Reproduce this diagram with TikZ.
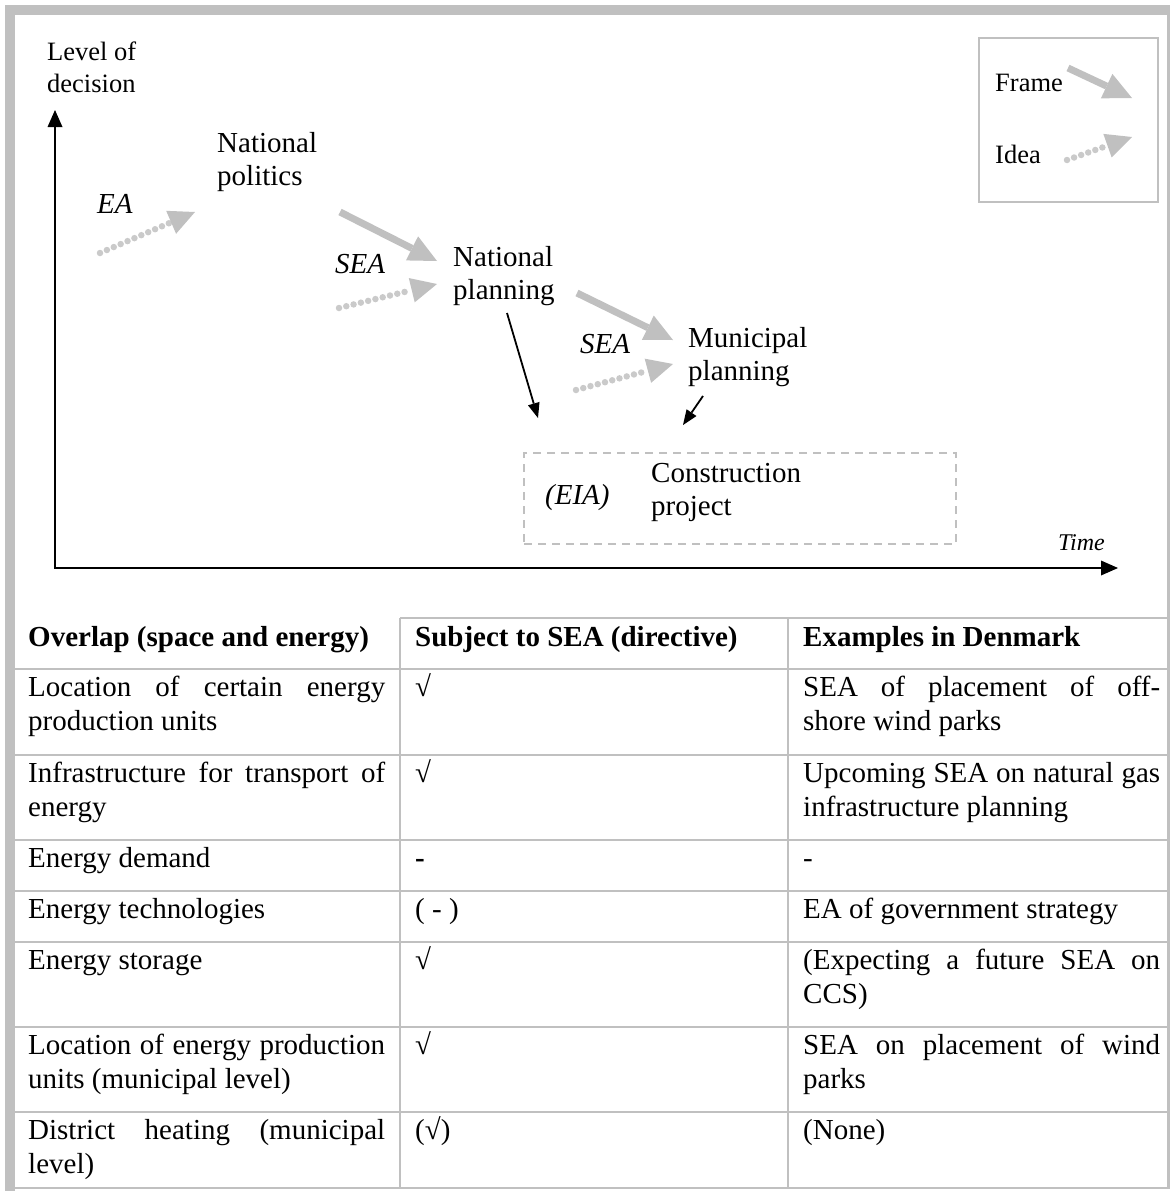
\documentclass[tikz,border=0pt]{standalone}
\usepackage{fontspec}
\setmainfont{Liberation Serif}
\usetikzlibrary{arrows.meta,positioning}
\hbadness=10000
\definecolor{lightgrey}{RGB}{192,192,192}
\definecolor{dotgrey}{RGB}{202,202,202}
\newcommand{\bigtext}{\fontsize{29}{33}\selectfont}
\newcommand{\tabtext}{\fontsize{29}{34}\selectfont}
\newcommand{\smalltext}{\fontsize{26.5}{32}\selectfont}
\newcommand{\timetext}{\fontsize{24}{28}\selectfont}
\tikzset{
    txt/.style={anchor=base west, inner sep=0pt, align=left, font=\bigtext},
    itxt/.style={txt, font=\bigtext\itshape},
    smalltxt/.style={txt, font=\smalltext},
    cell/.style={anchor=base west, inner sep=0pt, text width=357pt, align=justify, font=\tabtext},
    framearrow/.style={draw=lightgrey, line width=7pt, -{Triangle[length=28pt, width=27pt, line width=0pt]}},
    ideaarrow/.style={draw=dotgrey, line width=6.5pt, line cap=round, dash pattern=on 0pt off 7.5pt,
        -{Triangle[length=26pt, width=25pt, line width=0pt, color=lightgrey]}},
    blackarrow/.style={draw, line width=1.8pt, -{Triangle[length=15pt, width=12pt, line width=0pt]}},
    axis/.style={draw, line width=2.5pt, {Triangle[length=17pt, width=15pt, line width=0pt]}-{Triangle[length=17pt, width=15pt, line width=0pt]}},
    grid/.style={draw=lightgrey, line width=2pt},
    greybox/.style={draw=lightgrey, line width=2pt, inner sep=0pt, anchor=north west}
}

\begin{document}
\begin{tikzpicture}[x=1pt, y=-1pt]
    \useasboundingbox (0,0) rectangle (1172,1191);

    % outer frame
    \fill[lightgrey] (5,5) rectangle (1170,15);
    \fill[lightgrey] (5,5) rectangle (15,1191);
    \draw[lightgrey, line width=2.5pt] (1168.5,15) -- (1168.5,1188) -- (15,1188);

    % axes
    \coordinate (origin) at (55,568);
    \coordinate (ytop) at (55,110);
    \coordinate (xright) at (1118,568);
    \draw[axis] (ytop) -- (origin) -- (xright);
    \node[smalltxt] (level) at (47,92) {Level of\\decision};
    \node[font=\timetext\itshape, anchor=base east, inner sep=0pt] (time) at (1105,550) {Time};

    % Nodes (two-line nodes sit on their last line)
    \node[txt] (natpol) at (217,185) {National\\politics};
    \node[itxt] (ea) at (97,213) {EA};
    \node[itxt] (sea1) at (335,273) {SEA};
    \node[txt] (natplan) at (453,299) {National\\planning};
    \node[itxt] (sea2) at (580,353) {SEA};
    \node[txt] (munplan) at (688,380) {Municipal\\planning};
    \node[greybox, dash pattern=on 8pt off 6pt, minimum width=432pt, minimum height=91pt] (projbox) at (523,452) {};
    \node[itxt] (eia) at (545,504) {(EIA)};
    \node[txt] (constr) at (651,515) {Construction\\project};

    % legend
    \node[greybox, minimum width=179pt, minimum height=164pt] (legend) at (978,37) {};
    \node[smalltxt] (frame) at (995,91) {Frame};
    \node[smalltxt] (idea) at (995,163) {Idea};

    % arrow ends
    \coordinate (ea0) at (100,253);   \coordinate (ea1) at (195,212);
    \coordinate (fr0) at (340,212);   \coordinate (fr1) at (437,261);
    \coordinate (id0) at (339,308);   \coordinate (id1) at (437,284);
    \coordinate (fr2) at (577,293);   \coordinate (fr3) at (673,340);
    \coordinate (id2) at (576,390);   \coordinate (id3) at (673,364);
    \coordinate (lf0) at (1068,68);   \coordinate (lf1) at (1132,98);
    \coordinate (li0) at (1067,160);  \coordinate (li1) at (1132,137);
    \coordinate (np0) at (507,313);   \coordinate (np1) at (538,418);
    \coordinate (mp0) at (703,396);   \coordinate (mp1) at (683,425);

    % arrows
    \draw[ideaarrow] (ea0) -- (ea1);
    \draw[framearrow] (fr0) -- (fr1);
    \draw[ideaarrow] (id0) -- (id1);
    \draw[framearrow] (fr2) -- (fr3);
    \draw[ideaarrow] (id2) -- (id3);
    \draw[framearrow] (lf0) -- (lf1);
    \draw[ideaarrow] (li0) -- (li1);
    \draw[blackarrow] (np0) -- (np1);
    \draw[blackarrow] (mp0) -- (mp1);

    % table grid
    \draw[grid] (400,618) -- (1168,618);
    \foreach \y in {669,755,840,891,942,1027,1112}
        \draw[grid] (15,\y) -- (1168,\y);
    \foreach \x in {400,788}
        \draw[grid] (\x,618) -- (\x,1188);

    % header
    \node[cell, font=\tabtext\bfseries] (h1) at (28,646) {Overlap (space and energy)};
    \node[cell, font=\tabtext\bfseries] (h2) at (415,646) {Subject to SEA (directive)};
    \node[cell, font=\tabtext\bfseries] (h3) at (803,646) {Examples in Denmark};

    % rows
    \node[cell] (r1a) at (28,696) {Location of certain energy\linebreak production units};
    \node[cell] (r1b) at (415,696) {√};
    \node[cell] (r1c) at (803,696) {SEA of placement of off-\linebreak shore wind parks};

    \node[cell] (r2a) at (28,782) {Infrastructure for transport of\linebreak energy};
    \node[cell] (r2b) at (415,782) {√};
    \node[cell] (r2c) at (803,782) {Upcoming SEA on natural gas\linebreak infrastructure planning};

    \node[cell] (r3a) at (28,867) {Energy demand};
    \node[cell] (r3b) at (415,867) {\textbf{-}};
    \node[cell] (r3c) at (803,867) {-};

    \node[cell] (r4a) at (28,918) {Energy technologies};
    \node[cell] (r4b) at (415,918) {( - )};
    \node[cell] (r4c) at (803,918) {EA of government strategy};

    \node[cell] (r5a) at (28,969) {Energy storage};
    \node[cell] (r5b) at (415,969) {√};
    \node[cell] (r5c) at (803,969) {(Expecting a future SEA on\linebreak CCS)};

    \node[cell] (r6a) at (28,1054) {Location of energy production\linebreak units (municipal level)};
    \node[cell] (r6b) at (415,1054) {√};
    \node[cell] (r6c) at (803,1054) {SEA on placement of wind\linebreak parks};

    \node[cell] (r7a) at (28,1139) {District heating (municipal\linebreak level)};
    \node[cell] (r7b) at (415,1139) {(√)};
    \node[cell] (r7c) at (803,1139) {(None)};
\end{tikzpicture}
\end{document}
